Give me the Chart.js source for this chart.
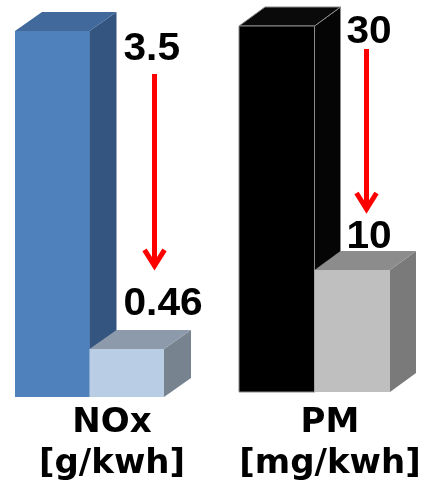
<!DOCTYPE html>
<html>
<head>
<meta charset="utf-8">
<script src="https://cdn.jsdelivr.net/npm/chart.js@4.4.1/dist/chart.umd.min.js"></script>
<style>
  html, body { margin: 0; padding: 0; background: #ffffff; }
  #wrap { position: relative; width: 428px; height: 496px; overflow: hidden; }
  canvas { position: absolute; top: 0; }
</style>
</head>
<body>
<div id="wrap">
  <canvas id="noxChart" width="224" height="496" style="left:0px"></canvas>
  <canvas id="pmChart" width="212" height="496" style="left:216px"></canvas>
</div>
<script>
var categories = ['NOx', 'PM'];
var units = ['[g/kwh]', '[mg/kwh]'];
var steps = ['before', 'after'];
var nox_values = [3.5, 0.46];
var pm_values = [30, 10];

var FONT = '"Liberation Sans", Arial, sans-serif';
var TITLE_FONT = '"DejaVu Sans", Verdana, sans-serif';

function poly(ctx, pts, fill, edge){
  ctx.beginPath();
  ctx.moveTo(pts[0][0], pts[0][1]);
  for (var k = 1; k < pts.length; k++) ctx.lineTo(pts[k][0], pts[k][1]);
  ctx.closePath();
  ctx.fillStyle = fill;
  ctx.fill();
  if (edge) {
    ctx.strokeStyle = edge;
    ctx.lineWidth = 1;
    ctx.stroke();
  }
}

function wideText(ctx, txt, x, y){
  // the original numbers are a bit stretched sideways
  ctx.save();
  ctx.translate(x, y);
  ctx.scale(1.07, 1);
  ctx.fillText(txt, 0, 0);
  ctx.restore();
}

function makeBoxPlugin(o){
  return {
    id: 'box3d',
    afterDatasetsDraw: function(chart){
      var ctx = chart.ctx;
      var meta = chart.getDatasetMeta(0);
      var values = chart.data.datasets[0].data;
      ctx.save();
      // 3d boxes, tall one first so the small front covers its side
      meta.data.forEach(function(bar, i){
        var left = bar.x - bar.width / 2;
        var right = bar.x + bar.width / 2;
        var top = bar.y;
        var bottom = bar.base;
        poly(ctx, [[right, top], [right + o.dx, top - o.dy], [right + o.dx, bottom - o.dy], [right, bottom]], o.side[i], o.edge[i]);
        poly(ctx, [[left, top], [left + o.dx, top - o.dy], [right + o.dx, top - o.dy], [right, top]], o.top[i], o.edge[i]);
        poly(ctx, [[left, top], [right, top], [right, bottom], [left, bottom]], o.front[i], o.edge[i]);
      });

      // value labels
      var tall = meta.data[0];
      var small = meta.data[1];
      var textX = small.x - small.width / 2 + o.textDx;
      var topBase = tall.y + o.topLabelDy;
      var lowBase = small.y + o.lowLabelDy;
      ctx.font = 'bold 38px ' + FONT;
      ctx.fillStyle = '#000000';
      ctx.textAlign = 'left';
      ctx.textBaseline = 'alphabetic';
      wideText(ctx, String(values[0]), textX, topBase);
      wideText(ctx, String(values[1]), textX, lowBase);

      // red arrow
      var ax = textX + o.arrowDx;
      var y0 = topBase + o.arrowGapTop;
      var y1 = lowBase - 28 - o.arrowGapLow;
      ctx.strokeStyle = '#ff0000';
      ctx.lineWidth = 5;
      ctx.lineCap = 'butt';
      ctx.beginPath();
      ctx.moveTo(ax, y0);
      ctx.lineTo(ax, y1 - 3);
      ctx.stroke();
      ctx.lineJoin = 'miter';
      ctx.beginPath();
      ctx.moveTo(ax - 10, y1 - 20);
      ctx.lineTo(ax, y1 - 4);
      ctx.lineTo(ax + 10, y1 - 20);
      ctx.stroke();

      // category name + unit under the bars
      var bottom = chart.chartArea.bottom;
      ctx.font = 'bold 34px ' + TITLE_FONT;
      ctx.textAlign = 'center';
      ctx.fillText(o.name[0], o.nameX, bottom + o.nameDy);
      ctx.fillText(o.name[1], o.nameX, bottom + o.nameDy + 41);
      ctx.restore();
    }
  };
}

function drawEmissionChart(id_name, idx, values, pad, box){
  box.name = [categories[idx], units[idx]];
  var ctx = document.getElementById(id_name).getContext('2d');
  var myChart = new Chart(ctx, {
    type: 'bar',
    plugins: [makeBoxPlugin(box)],
    data: {
      labels: steps,
      datasets: [{
        data: values,
        backgroundColor: box.front,
        borderWidth: 0,
        barPercentage: 1,
        categoryPercentage: 1,
      }],
    },
    options: {
      responsive: false,
      animation: false,
      devicePixelRatio: 1,
      layout: {
        padding: pad
      },
      scales: {
        x: {
          display: false,
        },
        y: {
          display: false,
          min: 0,
          max: values[0],
        }
      },
      plugins: {
        legend: {
          display: false,
        },
        tooltip: {
          enabled: false,
        },
        title: {
          display: false,
        }
      }
    },
  });
}

drawEmissionChart('noxChart', 0, nox_values, { left: 15, right: 60, top: 31, bottom: 99 }, {
  dx: 27, dy: 19,
  front: ['#4f81bd', '#b9cde5'],
  top: ['#41699b', '#8d9aab'],
  side: ['#345580', '#77838f'],
  edge: [null, null],
  textDx: 34, topLabelDy: 29, lowLabelDy: -34,
  arrowDx: 31, arrowGapTop: 14, arrowGapLow: 17,
  nameX: 112, nameDy: 35,
});

drawEmissionChart('pmChart', 1, pm_values, { left: 23, right: 38, top: 26, bottom: 104 }, {
  dx: 26, dy: 19,
  front: ['#000000', '#bfbfbf'],
  top: ['#0a0a0a', '#8c8c8c'],
  side: ['#050505', '#7a7a7a'],
  edge: ['#8a8a8a', null],
  textDx: 32, topLabelDy: 17, lowLabelDy: -22,
  arrowDx: 20, arrowGapTop: 6, arrowGapLow: 7,
  nameX: 114, nameDy: 40,
});
</script>
</body>
</html>
